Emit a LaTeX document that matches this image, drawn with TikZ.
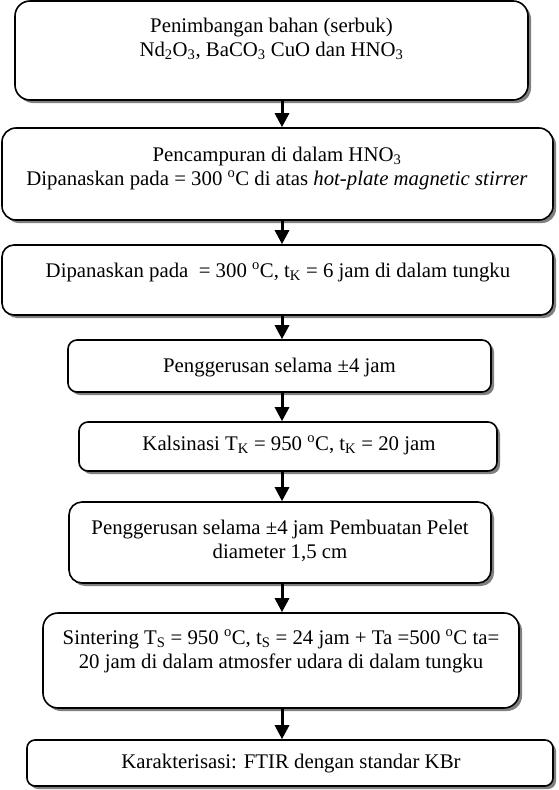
\documentclass[tikz,border=0pt]{standalone}
\usepackage{fontspec}
\setmainfont{Liberation Serif}
\usepackage{tikz}
\usetikzlibrary{arrows.meta,positioning,shadows}
\usepackage{xcolor}

\begin{document}
\begin{tikzpicture}[x=1pt,y=-1pt,
  stepbox/.style={draw=black,line width=1.6pt,fill=white,rounded corners=#1,
    drop shadow={shadow xshift=3pt,shadow yshift=-3pt,fill=shadowgray,opacity=1}},
  stepbox/.default=9pt,
  steptext/.style={font=\fontsize{20.8}{24}\selectfont,align=center,inner sep=0pt,anchor=base},
  flowarrow/.style={-{Triangle[width=14pt,length=14pt]},line width=3pt}]
% Define colors
\definecolor{shadowgray}{RGB}{128,128,128}

\useasboundingbox (0,0) rectangle (558,790);

% Boxes
\node[stepbox=15pt,minimum width=513pt,minimum height=99pt] (weigh) at (271.5,50.5) {};
\node[stepbox=14pt,minimum width=551pt,minimum height=92pt] (mix) at (277.5,174) {};
\node[stepbox=12pt,minimum width=551pt,minimum height=70pt] (heat) at (277.5,280) {};
\node[stepbox,minimum width=423pt,minimum height=52pt] (grind) at (279.5,366) {};
\node[stepbox,minimum width=418pt,minimum height=49pt] (calc) at (288,446.5) {};
\node[stepbox=13pt,minimum width=422pt,minimum height=81pt] (pellet) at (280,542.5) {};
\node[stepbox=15pt,minimum width=476pt,minimum height=95pt] (sinter) at (281,660.5) {};
\node[stepbox=8pt,minimum width=526pt,minimum height=46pt] (ftir) at (290,763) {};

% Texts (base = last line)
\node[steptext] (weigh-t) at (271.5,56) {Penimbangan bahan (serbuk)\\
  Nd\textsubscript{2}O\textsubscript{3}, BaCO\textsubscript{3} CuO dan HNO\textsubscript{3}};
\node[steptext] (mix-t) at (277,185) {Pencampuran di dalam HNO\textsubscript{3}\\
  Dipanaskan pada = 300 \textsuperscript{o}C di atas \textit{hot-plate magnetic stirrer}};
\node[steptext] (heat-t) at (278,277) {Dipanaskan pada \ = 300 \textsuperscript{o}C, t\textsubscript{K} = 6 jam di dalam tungku};
\node[steptext] (grind-t) at (279.5,372) {Penggerusan selama ±4 jam};
\node[steptext] (calc-t) at (289,450) {Kalsinasi T\textsubscript{K} = 950 \textsuperscript{o}C, t\textsubscript{K} = 20 jam};
\node[steptext] (pellet-t) at (280,558) {Penggerusan selama ±4 jam Pembuatan Pelet\\ diameter 1,5 cm};
\node[steptext] (sinter-t) at (281,668) {Sintering T\textsubscript{S} = 950 \textsuperscript{o}C, t\textsubscript{S} = 24 jam + Ta =500 \textsuperscript{o}C ta=\\
  20 jam di dalam atmosfer udara di dalam tungku};
\node[steptext] (ftir-t) at (291,768) {Karakterisasi: FTIR dengan standar KBr};

% Arrows
\coordinate (axis) at (282,0);
\draw[flowarrow] (weigh.south -| axis) -- (mix.north -| axis);
\draw[flowarrow] (mix.south -| axis) -- (heat.north -| axis);
\draw[flowarrow] (heat.south -| axis) -- (grind.north -| axis);
\draw[flowarrow] (grind.south -| axis) -- (calc.north -| axis);
\draw[flowarrow] (calc.south -| axis) -- (pellet.north -| axis);
\draw[flowarrow] (pellet.south -| axis) -- (sinter.north -| axis);
\draw[flowarrow] (sinter.south -| axis) -- (ftir.north -| axis);
\end{tikzpicture}
\end{document}
